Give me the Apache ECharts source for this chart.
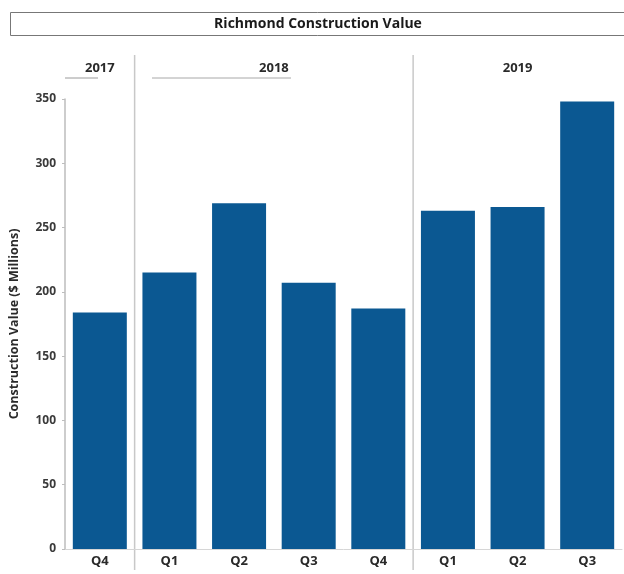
<!DOCTYPE html>
<html>
<head>
<meta charset="utf-8">
<script src="https://cdn.jsdelivr.net/npm/echarts@6/dist/echarts.min.js"></script>
<style>
  html, body { margin: 0; padding: 0; background: #fff; }
  #chart { width: 624px; height: 574px; }
</style>
</head>
<body>
<div id="chart"></div>
<script>
// Quarterly construction value, Richmond ($ millions)
const quarters = ['Q4', 'Q1', 'Q2', 'Q3', 'Q4', 'Q1', 'Q2', 'Q3'];
const values = [184, 215, 269, 207, 187, 263, 266, 348];
const years = ['2017', '2018', '2019'];
const yearSpans = [1, 4, 3];          // quarters per year group
const yTicks = { min: 0, max: 350, interval: 50 };

const FONT = '"Open Sans", Lato, sans-serif';
const barColor = '#0b5892';
const sepColor = '#c8c8c8';

const chart = echarts.init(document.getElementById('chart'), null, { renderer: 'canvas' });

chart.setOption({
  backgroundColor: '#fff',
  animation: false,
  grid: { left: 62, right: 2, top: 99, bottom: 25, containLabel: false },
  xAxis: {
    type: 'category',
    data: quarters,
    axisLine: { show: true, lineStyle: { color: '#d6d6d6', width: 1 } },
    axisTick: { show: false },
    axisLabel: { color: '#2a2a2a', fontFamily: FONT, fontWeight: 'bold', fontSize: 13, margin: 6 }
  },
  yAxis: {
    type: 'value',
    min: yTicks.min, max: yTicks.max, interval: yTicks.interval,
    name: 'Construction Value ($ Millions)',
    nameLocation: 'middle',
    nameGap: 44,
    nameTextStyle: { color: '#2a2a2a', fontFamily: FONT, fontWeight: 'bold', fontSize: 12.5 },
    axisLine: { show: true, lineStyle: { color: '#bdbdbd', width: 1.5 } },
    axisTick: { show: true, length: 3, inside: false, lineStyle: { color: '#bdbdbd' } },
    splitLine: { show: false },
    axisLabel: { color: '#3a3a3a', fontFamily: FONT, fontWeight: 'bold', fontSize: 12, margin: 9 }
  },
  series: [{
    type: 'bar',
    data: values,
    barWidth: 54,
    itemStyle: { color: barColor }
  }]
});

// Year group headers, separators and title box, placed from the category axis
function decorate() {
  const graphics = [];
  const cellW = chart.convertToPixel({ xAxisIndex: 0 }, 1) - chart.convertToPixel({ xAxisIndex: 0 }, 0);
  let start = 0;
  years.forEach((yr, i) => {
    const span = yearSpans[i];
    const leftX = chart.convertToPixel({ xAxisIndex: 0 }, start) - cellW / 2;
    const rightX = leftX + span * cellW;
    const cx = (leftX + rightX) / 2;
    graphics.push({
      type: 'text',
      x: cx, y: 68,
      style: {
        text: yr, fill: '#2a2a2a', font: 'bold 13px ' + FONT,
        textAlign: 'center', textVerticalAlign: 'middle'
      }
    });
    if (i > 0) {
      graphics.push({
        type: 'line',
        shape: { x1: leftX, y1: 55, x2: leftX, y2: 570 },
        style: { stroke: sepColor, lineWidth: 1.5 }
      });
    }
    start += span;
  });
  // faint rules under the first two year headers
  graphics.push({ type: 'line', shape: { x1: 65, y1: 78, x2: 98, y2: 78 }, style: { stroke: '#9a9a9a', lineWidth: 1 } });
  graphics.push({ type: 'line', shape: { x1: 152, y1: 78, x2: 291, y2: 78 }, style: { stroke: '#a8a8a8', lineWidth: 1 } });
  // title box
  graphics.push({
    type: 'rect',
    shape: { x: 10.5, y: 12.5, width: 620, height: 23 },
    style: { fill: 'none', stroke: '#777', lineWidth: 1 }
  });
  graphics.push({
    type: 'text',
    x: 318, y: 24,
    style: {
      text: 'Richmond Construction Value', fill: '#1a1a1a', font: 'bold 14px ' + FONT,
      textAlign: 'center', textVerticalAlign: 'middle'
    }
  });
  chart.setOption({ graphic: graphics });
}
decorate();
</script>
</body>
</html>
